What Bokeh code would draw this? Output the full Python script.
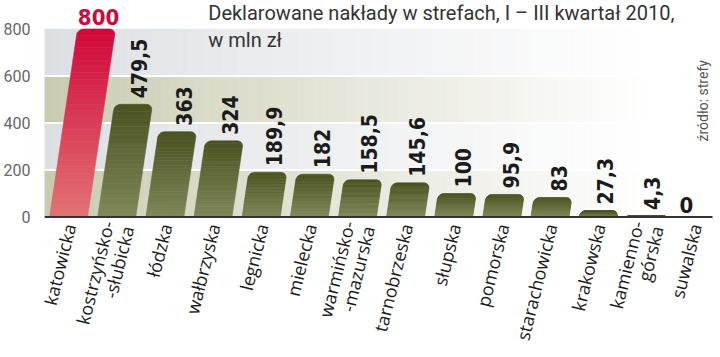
import numpy as np
from bokeh.plotting import figure
from bokeh.models import Range1d, FixedTicker, ColumnDataSource
from bokeh.embed import file_html
from bokeh.resources import INLINE
from bokeh.core.properties import value

# ---------------- data ----------------
categories = ["katowicka", "kostrzyńsko-\n-słubicka", "łódzka", "wałbrzyska", "legnicka",
              "mielecka", "warmińsko-\n-mazurska", "tarnobrzeska", "słupska", "pomorska",
              "starachowicka", "krakowska", "kamienno-\ngórska", "suwalska"]
values = [800, 479.5, 363, 324, 189.9, 182, 158.5, 145.6, 100, 95.9, 83, 27.3, 4.3, 0]
value_labels = ["800", "479,5", "363", "324", "189,9", "182", "158,5", "145,6",
                "100", "95,9", "83", "27,3", "4,3", "0"]
y_ticks = [0, 200, 400, 600, 800]
title_lines = ["Deklarowane nakłady w strefach, I – III kwartał 2010,", "w mln zł"]
source_note = "źródło: strefy"
highlight = 0  # katowicka

# ---------------- layout ----------------
W, H = 720, 357
FL, FR = 43, 718
n = len(categories)
ppu_x = (FR - FL) / n
Y0 = 216.5
ppu_y = 0.235
y_top = Y0 / ppu_y
y_bot = -(H - Y0) / ppu_y

LABEL_FONT = "'DejaVu Sans Condensed', 'DejaVu Sans', sans-serif"


def px2x(px):
    return (px - FL) / ppu_x - 0.5


def py2y(py):
    return (Y0 - py) / ppu_y


def dx(px):
    return px / ppu_x


def dy(px):
    return px / ppu_y


def hex2rgb(h):
    h = h.lstrip("#")
    return np.array([int(h[i:i + 2], 16) for i in (0, 2, 4)], dtype=float)


def mix(c1, c2, t):
    a, b = hex2rgb(c1), hex2rgb(c2)
    c = a + (b - a) * t
    return "#%02x%02x%02x" % tuple(int(round(v)) for v in c)


p = figure(width=W, height=H, x_range=Range1d(-0.5, n - 0.5), y_range=Range1d(y_bot, y_top),
           x_axis_location=None, toolbar_location=None, output_backend="svg",
           min_border_left=FL, min_border_right=W - FR, min_border_top=0, min_border_bottom=0)
p.outline_line_color = None
p.grid.visible = False
p.background_fill_color = "white"
p.border_fill_color = "white"

ya = p.yaxis[0]
ya.ticker = FixedTicker(ticks=y_ticks)
ya.axis_line_color = None
ya.major_tick_line_color = None
ya.minor_tick_line_color = None
ya.major_label_text_font = "Roboto"
ya.major_label_text_font_size = "16px"
ya.major_label_text_color = "#666666"
ya.major_label_standoff = 8

# ---------------- background bands (fading to white) ----------------
band_cols = ["#c8c9ae", "#dcdfe2", "#c8c9ae", "#dcdfe2"]
nstrip = 80
edges_x = np.linspace(-0.5, n - 0.5, nstrip + 1)
ql, qr, qb, qt, qc = [], [], [], [], []
for b in range(len(y_ticks) - 1):
    for s in range(nstrip):
        xc = 0.5 * (edges_x[s] + edges_x[s + 1])
        t = min(1.0, max(0.0, (xc + 0.5) / 12.5))
        ql.append(edges_x[s]); qr.append(edges_x[s + 1])
        qb.append(y_ticks[b]); qt.append(y_ticks[b + 1])
        qc.append(mix(band_cols[b], "#ffffff", t ** 0.9))
p.quad(left=ql, right=qr, bottom=qb, top=qt, fill_color=qc, line_color=qc, line_width=0.6)

# white grid lines
gl = y_ticks[1:-1]
p.segment(x0=[-0.5] * len(gl), x1=[n - 0.5] * len(gl), y0=gl, y1=gl,
          line_color="white", line_width=2)

# ---------------- skewed bars with gradient ----------------
k = 28 / ppu_x / 800.0  # skew: x units per y unit
bw = 0.79
rx = 6 / ppu_x
ry = 6 / ppu_y
nsl = 30
bxs, bys, bcs = [], [], []
for i, v in enumerate(values):
    if v <= 0:
        continue
    r_y = min(ry, v)
    r_x = rx * r_y / ry
    if i == highlight:
        c_bot, c_top = "#e27373", "#d2073b"
    else:
        c_bot, c_top = "#7f8859", "#4a5220"

    def edge(y):
        c = i + y * k
        inset = 0.0
        if y > v - r_y:
            u = (y - (v - r_y)) / r_y
            inset = r_x * (1 - np.sqrt(max(0.0, 1 - u * u)))
        return c - bw / 2 + inset, c + bw / 2 - inset

    for s in range(nsl):
        y_a, y_b = v * s / nsl, v * (s + 1) / nsl
        yy = np.linspace(y_a, y_b, 14)
        le = [edge(y)[0] for y in yy]
        re = [edge(y)[1] for y in yy]
        bxs.append(le + re[::-1])
        bys.append(list(yy) + list(yy[::-1]))
        bcs.append(mix(c_bot, c_top, (s + 0.5) / nsl))
p.patches(xs=bxs, ys=bys, fill_color=bcs, line_color=bcs, line_width=0.6)

# baseline
p.segment(x0=[-0.5], y0=[0], x1=[px2x(712)], y1=[0], line_color="#333333", line_width=2)

# ---------------- value labels ----------------
rot = dict(x=[], y=[], t=[])
hor = dict(x=[], y=[], t=[], c=[])
for i, (v, lab) in enumerate(zip(values, value_labels)):
    xt = i + v * k
    if i == highlight or v == 0:
        hor["x"].append(xt + dx(2 if i == highlight else -8))
        hor["y"].append(v + dy(12.5))
        hor["t"].append(lab)
        hor["c"].append("#d2073b" if i == highlight else "#1b1b1b")
    else:
        rot["x"].append(xt + dx(6))
        rot["y"].append(v + dy(6))
        rot["t"].append(lab)

p.text(x="x", y="y", text="t", source=ColumnDataSource(rot), angle=np.pi / 2,
       text_align="left", text_baseline="middle",
       text_font=value(LABEL_FONT), text_font_style="bold",
       text_font_size="21px", text_color="#1b1b1b")
p.text(x="x", y="y", text="t", source=ColumnDataSource(hor), angle=0,
       text_align="center", text_baseline="middle",
       text_font=value(LABEL_FONT), text_font_style="bold",
       text_font_size="22px", text_color="c")

# ---------------- category labels ----------------
p.text(x=[i + dx(1) for i in range(n)], y=[-dy(7)] * n, text=categories, angle=np.deg2rad(76),
       text_align="right", text_baseline="middle",
       text_font=value("Open Sans"), text_font_size="18px", text_line_height=0.85,
       text_color="#1a1a1a")

# ---------------- title & source ----------------
p.text(x=[px2x(207)] * len(title_lines), y=[py2y(12 + 27 * j) for j in range(len(title_lines))],
       text=title_lines, text_align="left", text_baseline="middle",
       text_font=value("Roboto"), text_font_size="20px", text_color="#333333")
p.text(x=[px2x(702)], y=[py2y(141)], text=[source_note], angle=np.pi / 2,
       text_align="left", text_baseline="middle",
       text_font=value("Roboto"), text_font_size="14px", text_color="#555555")

open("out.html", "w").write(file_html(p, INLINE))
